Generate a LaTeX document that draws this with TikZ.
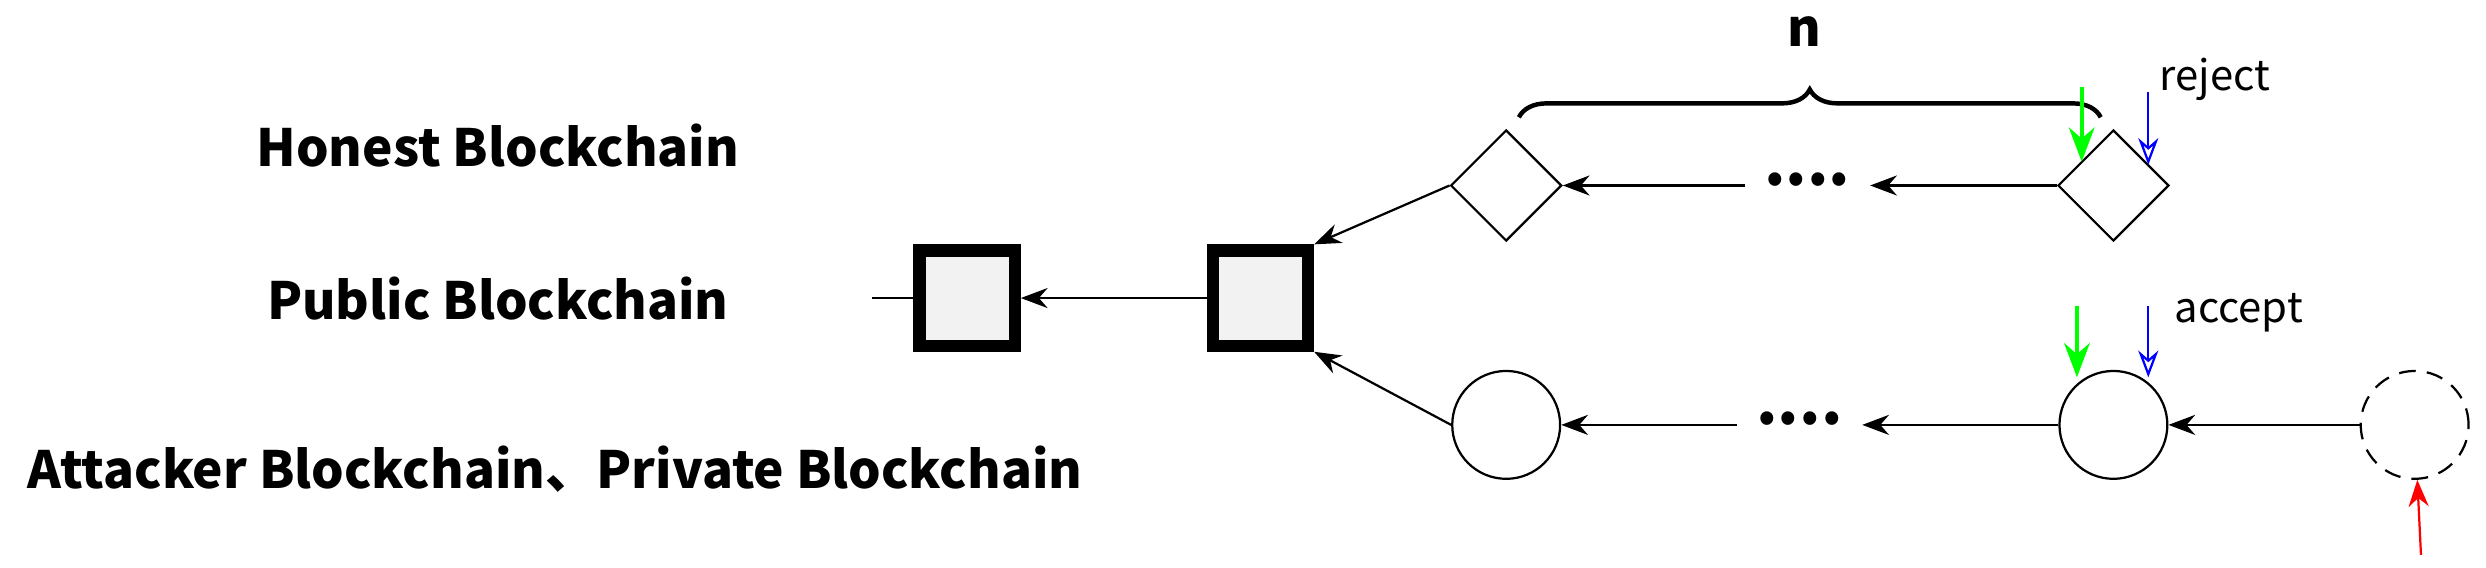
\documentclass[tikz,border=0pt]{standalone}
\usepackage{fontspec}
\setmainfont{Noto Sans CJK SC}
\usetikzlibrary{arrows.meta}
\usetikzlibrary{shapes}
\usetikzlibrary{decorations.pathreplacing}
\usetikzlibrary{positioning}

\begin{document}
\begin{tikzpicture}
    [   x = 0.01cm, y = -0.01cm
    ,   > = Stealth
    ,   block/.style = {draw, line width = 2.2pt, fill = gray!10, minimum size = 0.6cm, inner sep = 0pt}
    ,   honest/.style = {draw, diamond, minimum size = 0.7cm, inner sep = 0pt}
    ,   private/.style = {draw, circle, minimum size = 0.68cm, inner sep = 0pt}
    ,   chain/.style = {font = \fontsize{9.2}{11}\selectfont\bfseries}
    ,   note/.style = {font = \fontsize{7.5}{9}\selectfont}
    ,   dots/.style = {font = \fontsize{11}{11}\selectfont\bfseries}
    ]
    \useasboundingbox (0,0) rectangle (1568,358);

    % row labels
    \node[chain] (lh) at (314,92) {Honest Blockchain};
    \node[chain] (lp) at (314,188) {Public Blockchain};
    \node[chain] (la) at (350,296) {Attacker Blockchain、Private Blockchain};

    % public chain
    \node[block] (p1) at (610,188) {};
    \node[block] (p2) at (795,188) {};
    \coordinate (p0) at (550,188);
    \draw (p0) -- (p1);
    \draw[->] (p2) -- (p1);

    % honest chain
    \node[honest] (h1) at (950,117) {};
    \node[dots] (hd) at (1140,113) {....};
    \node[honest] (h2) at (1333,117) {};
    \draw[->] (h2) -- (hd.east |- h2);
    \draw[->] (hd.west |- h1) -- (h1);
    \draw[->] (h1.west) -- (p2.north east);

    % private chain
    \node[private] (a1) at (950,268) {};
    \node[dots] (ad) at (1135,264) {....};
    \node[private] (a2) at (1333,268) {};
    \node[private, dash pattern = on 3pt off 2pt] (a3) at (1523,268) {};
    \draw[->] (a3) -- (a2);
    \draw[->] (a2) -- (ad.east |- a2);
    \draw[->] (ad.west |- a1) -- (a1);
    \draw[->] (a1.west) -- (p2.south east);

    % brace
    \coordinate (b1) at (958,74);
    \coordinate (b2) at (1325,74);
    \draw[decorate, decoration = {brace, amplitude = 5pt}, line width = 0.8pt] (b1) -- (b2);
    \node[chain] (n) at (1138,20) {n};

    % markers
    \coordinate (g1) at (1313,55);
    \coordinate (g1e) at (1313,102);
    \coordinate (u1) at (1355,58);
    \coordinate (u1e) at (1355,104);
    \draw[->, green, line width = 0.7pt] (g1) -- (g1e);
    \draw[-{Stealth[open]}, blue] (u1) -- (u1e);
    \node[note] (rj) at (1397,50) {reject};

    \coordinate (g2) at (1310,193);
    \coordinate (g2e) at (1310,238);
    \coordinate (u2) at (1355,193);
    \coordinate (u2e) at (1355,238);
    \draw[->, green, line width = 0.7pt] (g2) -- (g2e);
    \draw[-{Stealth[open]}, blue] (u2) -- (u2e);
    \node[note] (ac) at (1412,197) {accept};

    \coordinate (r0) at (1527,350);
    \draw[->, red] (r0) -- (a3);
\end{tikzpicture}
\end{document}
